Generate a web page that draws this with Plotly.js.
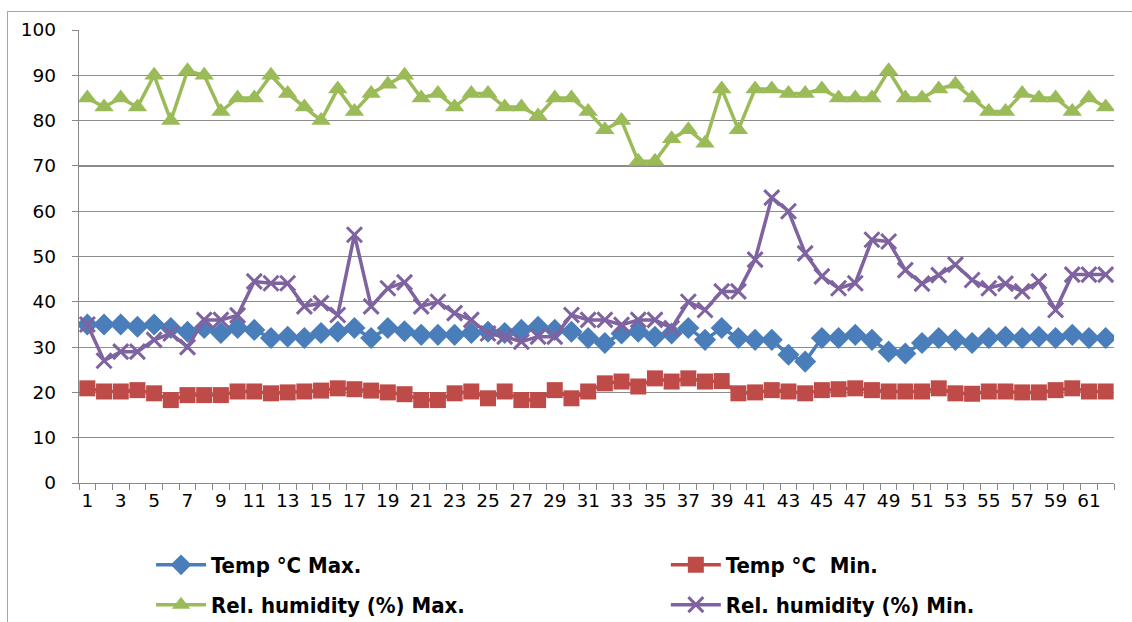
<!DOCTYPE html>
<html>
<head>
<meta charset="utf-8">
<script src="https://cdn.plot.ly/plotly-3.0.1.min.js"></script>
<style>
html,body{margin:0;padding:0;background:#fff;}
#frame{position:absolute;left:7px;top:11px;width:1140px;height:640px;border-left:1.5px solid #a6a6a6;border-top:1.5px solid #a6a6a6;box-sizing:border-box;pointer-events:none;z-index:5;}
#chart{position:absolute;left:0;top:0;width:1132px;height:622px;}
</style>
</head>
<body>
<div id="chart"></div>
<div id="frame"></div>
<script>
const days = Array.from({length: 62}, (_, i) => String(i + 1));

const tempMax = [35,35,35,34.5,35,34.2,33.4,34.2,33.1,34.2,33.8,32,32.3,32,33.1,33.4,34.2,32,34.2,33.5,
  32.7,32.7,32.7,33.1,33.4,33.1,33.8,34.5,33.8,33.4,32,30.9,33,33.4,32.3,33,34.2,31.6,34.2,32,
  31.6,31.6,28.3,26.8,32,32,32.7,31.6,29,28.6,30.9,32,31.6,30.9,32,32.3,32,32.3,32,32.7,32,32];

const tempMin = [20.9,20.2,20.2,20.5,19.8,18.3,19.4,19.4,19.4,20.2,20.2,19.8,20,20.2,20.4,20.9,20.7,20.4,20,19.6,
  18.3,18.3,19.8,20.2,18.7,20.2,18.3,18.3,20.5,18.7,20.2,22,22.4,21.3,23.1,22.4,23.1,22.4,22.5,19.8,
  20,20.5,20.2,19.8,20.5,20.7,20.9,20.5,20.2,20.2,20.2,20.9,19.8,19.7,20.2,20.2,20,20,20.5,20.9,20.2,20.2];

const rhMax = [85,83,85,83,90,80,91,90,82,85,85,90,86,83,80,87,82,86,88,90,
  85,86,83,86,86,83,83,81,85,85,82,78,80,71,71,76,78,75,87,78,
  87,87,86,86,87,85,85,85,91,85,85,87,88,85,82,82,86,85,85,82,85,83];

const rhMin = [35,27,29,29,31.6,33,30,36,36,37,44.5,44.1,44.1,39,39.7,37.1,54.8,39,43,44.3,
  39,40,37.5,36,33,32.3,31.2,32.3,32.3,37.1,36,36,34.9,36,36,34.2,40,38.2,42.3,42.3,
  49.3,63,60,50.7,45.6,43,44.1,53.7,53.3,47,44,45.9,48.2,44.8,43,44,42.3,44.5,38.2,46,46,46];

const names = ["Temp \u00b0C Max.", "Temp \u00b0C  Min.", "Rel. humidity (%) Max.", "Rel. humidity (%) Min."];
const colors = ["#4A7EBB", "#BE4B48", "#9BBB59", "#7F63A1"];

const traces = [
  {x: days, y: tempMax, name: names[0], mode: "lines+markers", legend: "legend",
   line: {color: colors[0], width: 3.5}, marker: {symbol: "diamond", size: 17, color: colors[0]}},
  {x: days, y: tempMin, name: names[1], mode: "lines+markers", legend: "legend2",
   line: {color: colors[1], width: 3.5}, marker: {symbol: "square", size: 16, color: colors[1]}},
  {x: days, y: rhMax, name: names[2], mode: "lines+markers", legend: "legend3",
   line: {color: colors[2], width: 3.5}, marker: {symbol: "triangle-up", size: 17, color: colors[2]}},
  {x: days, y: rhMin, name: names[3], mode: "lines+markers", legend: "legend4",
   line: {color: colors[3], width: 3.5}, marker: {symbol: "x-thin-open", size: 15, color: colors[3], line: {width: 3, color: colors[3]}}}
];

const legendFont = {family: "Liberation Sans Narrow, DejaVu Sans Condensed, Arial Narrow, sans-serif", size: 22, color: "#000", weight: "bold"};
function leg(x, y) {
  return {orientation: "h", x: x, xanchor: "left", y: y, yanchor: "middle",
    font: legendFont, bgcolor: "rgba(0,0,0,0)", itemwidth: 50, borderwidth: 0};
}

const tickFont = {size: 18.5, family: "DejaVu Sans, Open Sans, sans-serif", color: "#000"};

const layout = {
  width: 1132, height: 622,
  margin: {l: 79, r: 18, t: 30, b: 139, autoexpand: false},
  paper_bgcolor: "#ffffff", plot_bgcolor: "#ffffff",
  font: {family: "DejaVu Sans, sans-serif", color: "#000"},
  xaxis: {
    type: "category",
    tickmode: "linear", tick0: 0, dtick: 1,
    tickson: "boundaries",
    ticks: "outside", ticklen: 6, tickcolor: "#888",
    ticklabelstep: 2,
    tickangle: 0,
    showgrid: false,
    showline: true, linecolor: "#888", linewidth: 1.3,
    tickfont: tickFont,
    range: [-0.5, 61.5],
    fixedrange: true
  },
  yaxis: {
    range: [0, 100], dtick: 10, tick0: 0,
    ticks: "outside", ticklen: 6, tickcolor: "#888",
    showgrid: true, gridcolor: "#8c8c8c", gridwidth: 1.2,
    showline: true, linecolor: "#888", linewidth: 1.3,
    zeroline: false,
    tickfont: tickFont,
    ticklabelstandoff: 12,
    fixedrange: true
  },
  showlegend: true,
  legend: leg(0.0696, -0.181),
  legend2: leg(0.567, -0.181),
  legend3: leg(0.0696, -0.269),
  legend4: leg(0.567, -0.269)
};

Plotly.newPlot("chart", traces, layout, {staticPlot: true, displayModeBar: false});
</script>
</body>
</html>
